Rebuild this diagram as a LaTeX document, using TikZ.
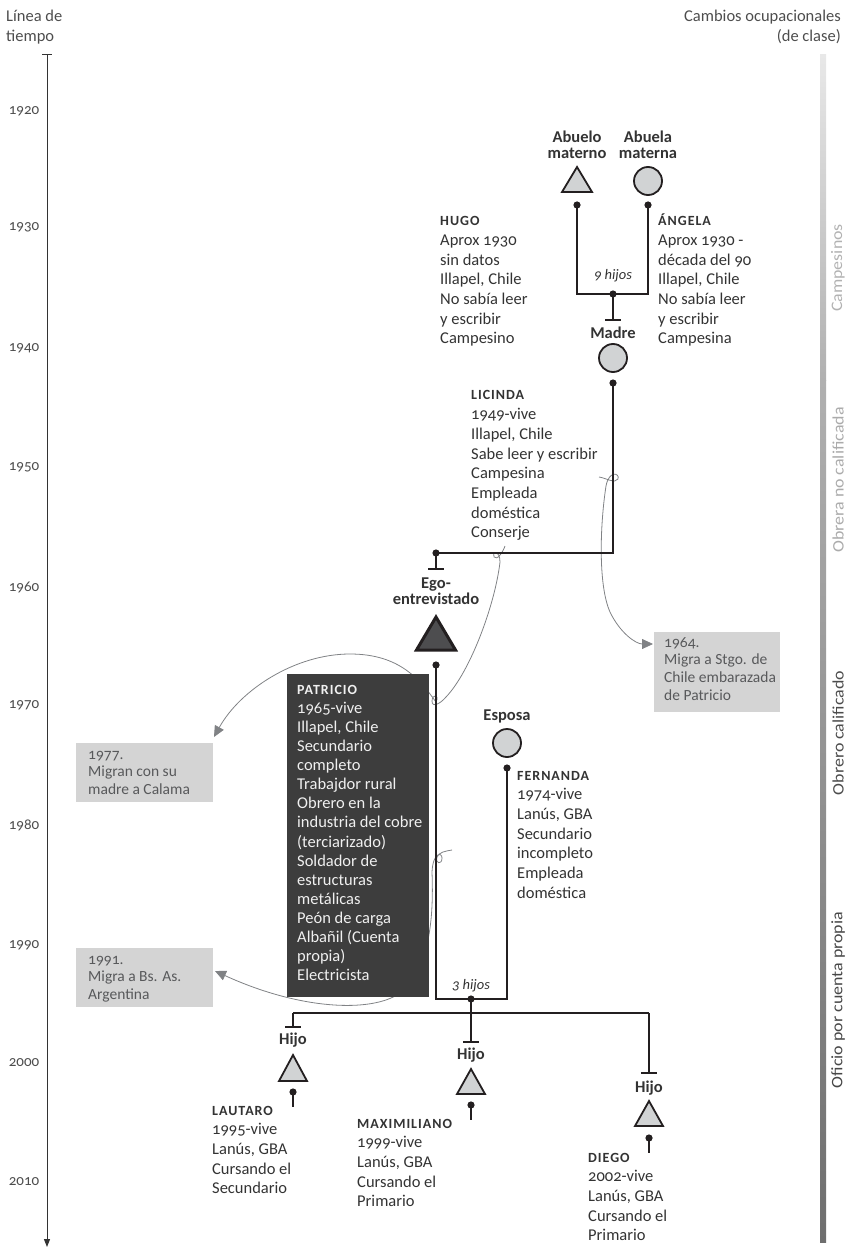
\documentclass[tikz,border=0pt]{standalone}
\usepackage{fontspec}
\setmainfont{Carlito}[Numbers=OldStyle]
\usetikzlibrary{arrows.meta}
\definecolor{ink}{HTML}{231F20}
\definecolor{txt}{HTML}{333333}
\definecolor{shapefill}{HTML}{D1D3D4}
\definecolor{egofill}{HTML}{4D4D4F}
\definecolor{boxdark}{HTML}{3D3D3D}
\definecolor{notefill}{HTML}{D4D4D4}
\definecolor{notetext}{HTML}{58595B}
\definecolor{arrowgray}{HTML}{808285}
\definecolor{yeargray}{HTML}{4D4D4D}
\definecolor{barA}{HTML}{E8E8E8}
\definecolor{barB}{HTML}{B0B0B0}
\definecolor{barC}{HTML}{6E6E6E}
\newcommand\bodyfont{\fontsize{16.5}{19.7}\selectfont}
\newcommand\pfont{\fontsize{16.5}{19.1}\selectfont}
\newcommand\notefont{\fontsize{15.5}{17.8}\selectfont}
\newcommand\lblfont{\fontsize{16.5}{16.5}\selectfont\bfseries}
\newcommand\nm[1]{{\fontsize{14}{15}\selectfont\bfseries\addfontfeature{LetterSpace=7}#1}}
\begin{document}
\begin{tikzpicture}[x=1pt,y=-1pt,
  conn/.style={draw=ink,line width=2pt},
  lbl/.style={font=\lblfont,text=txt,align=center,inner sep=0pt},
  info/.style={font=\bodyfont,text=txt,align=left,anchor=north west,inner sep=0pt},
  notebox/.style={fill=notefill,anchor=north west,inner sep=0pt},
  notetxt/.style={text=notetext,font=\notefont,align=left,anchor=north west,inner sep=0pt},
  mig/.style={draw=arrowgray,line width=0.8pt},
  migtip/.style={-{Triangle[length=11pt,width=10pt,fill=arrowgray]}},
  yr/.style={font=\fontsize{15}{15}\selectfont,text=yeargray,inner sep=0pt},
  side/.style={font=\fontsize{16}{16}\selectfont\addfontfeature{FakeStretch=1.12},rotate=90,inner sep=0pt},
  person/.style={draw=ink,line width=1.8pt,fill=shapefill},
  dotc/.style={fill=ink}
]
\useasboundingbox (0,0) rectangle (847,1249);

% headers
\node[font=\fontsize{16.5}{20.5}\selectfont,text=yeargray,align=left,anchor=north west,inner sep=0pt] (hdrL) at (6,6.6) {\strut L\'inea de\\tiempo};
\node[font=\fontsize{16.5}{20.5}\selectfont,text=yeargray,align=right,anchor=north east,inner sep=0pt] (hdrR) at (841,6.6) {\strut Cambios ocupacionales\\(de clase)};

% timeline
\coordinate (tTop) at (47,55);
\coordinate (tBot) at (47,1247);
\draw[draw=txt,line width=1pt,-{Triangle[length=8pt,width=6pt]}] (tTop) -- (tBot);
\draw[draw=txt,line width=1pt] (42,55) -- (52,55);
\foreach \yy/\lab in {111/1920,227/1930,348/1940,467/1950,587/1960,705/1970,825/1980,945/1990,1063/2000,1182/2010}
  \node[yr] (y\lab) at (24,\yy) {\lab};

% class bar
\shade[top color=barA,bottom color=barB] (820,55) rectangle (826,380);
\shade[top color=barB,bottom color=barC] (820,380) rectangle (826,1242);
\node[side,text=black!30] (c1) at (838,268) {Campesinos};
\node[side,text=black!33] (c2) at (838,480) {Obrera no calificada};
\node[side,text=black!70] (c3) at (838,733) {Obrero calificado};
\node[side,text=black!72] (c4) at (838,1000) {Oficio por cuenta propia};

% migration curves behind Patricio box
\coordinate (a64) at (653,644);
\coordinate (a77) at (214,737);
\coordinate (a91) at (215,971);
\draw[mig,migtip] (505,546) .. controls (503,552) and (497,561) .. (494,557)
  .. controls (491,552) and (500,549) .. (500,562)
  .. controls (495,605) and (470,672) .. (446,697)
  .. controls (440,704) and (432,708) .. (432,701)
  .. controls (432,694) and (440,694) .. (436,702)
  .. controls (420,680) and (400,654) .. (350,654)
  .. controls (295,654) and (240,690) .. (a77);
\draw[mig,migtip] (452,850) .. controls (446,851) and (439,852) .. (437,857)
  .. controls (435,864) and (442,865) .. (442,858)
  .. controls (442,852) and (433,852) .. (432,872)
  .. controls (434,925) and (428,968) .. (400,993)
  .. controls (372,1013) and (300,1010) .. (a91);
\draw[mig,migtip] (599,477) .. controls (606,478) and (615,484) .. (618,479)
  .. controls (620,473) and (609,470) .. (606,486)
  .. controls (600,525) and (598,585) .. (610,612)
  .. controls (620,633) and (636,644) .. (a64);

% notes
\node[notebox,minimum width=126pt,minimum height=80pt] (n64) at (654,632) {};
\node[notetxt] (t64) at (664,634.5) {\strut 1964.\\Migra a Stgo. de\\Chile embarazada\\de Patricio};
\node[notebox,minimum width=137pt,minimum height=59pt] (n77) at (76,743) {};
\node[notetxt] (t77) at (88,746.5) {\strut 1977.\\Migran con su\\madre a Calama};
\node[notebox,minimum width=137pt,minimum height=59pt] (n91) at (76,948) {};
\node[notetxt] (t91) at (88,951.5) {\strut 1991.\\Migra a Bs. As.\\Argentina};

% grandparents
\node[lbl] (lAbuelo) at (577,145) {Abuelo\\materno};
\node[lbl] (lAbuela) at (648,145) {Abuela\\materna};
\coordinate (abuelo) at (577,183);
\draw[person] (577,167) -- (562,192) -- (592,192) -- cycle;
\node[person,circle,minimum size=28pt,inner sep=0pt] (abuela) at (648,181) {};
\coordinate (dAbuelo) at (577,205);
\coordinate (dAbuela) at (648,205);
\coordinate (u1) at (613,294);
\coordinate (tk1) at (613,320);
\draw[conn] (dAbuelo) -- (dAbuelo |- u1) -- (dAbuela |- u1) -- (dAbuela);
\draw[conn] (u1) -- (tk1);
\draw[conn] ([xshift=-8pt]tk1) -- ([xshift=8pt]tk1);
\fill[dotc] (dAbuelo) circle (3.6pt) (dAbuela) circle (3.6pt) (u1) circle (3.6pt);
\node[font=\fontsize{14.5}{14.5}\selectfont\itshape,text=txt,inner sep=0pt] (h9) at (613,276) {9 hijos};

% info blocks
\node[info] (hugo) at (440,211.7) {\strut\nm{HUGO}\\Aprox 1930\\sin datos\\Illapel, Chile\\No sab\'ia leer\\y escribir\\Campesino};
\node[info] (angela) at (658,211.7) {\strut\nm{\'ANGELA}\\Aprox 1930 -\\d\'ecada del 90\\Illapel, Chile\\No sab\'ia leer\\y escribir\\Campesina};

% madre
\node[lbl] (lMadre) at (613,333) {Madre};
\node[person,circle,minimum size=28pt,inner sep=0pt] (madre) at (613,358) {};
\coordinate (dMadre) at (613,383);
\coordinate (dEgo) at (436,553);
\coordinate (tk2) at (436,569);
\draw[conn] (dMadre) -- (dMadre |- dEgo) -- (dEgo) -- (tk2);
\draw[conn] ([xshift=-8pt]tk2) -- ([xshift=8pt]tk2);
\fill[dotc] (dMadre) circle (3.6pt) (dEgo) circle (3.6pt);
\node[info] (licinda) at (471,386) {\strut\nm{LICINDA}\\1949-vive\\Illapel, Chile\\Sabe leer y escribir\\Campesina\\Empleada\\dom\'estica\\Conserje};

% ego
\node[lbl] (lEgo) at (436,591) {Ego-\\entrevistado};
\coordinate (ego) at (436,638);
\draw[draw=ink,line width=3pt,fill=egofill] (436,617) -- (416.5,650) -- (455.5,650) -- cycle;
\coordinate (dPat) at (436,665);
\coordinate (u2) at (471,999);
\coordinate (dEsp) at (507,768);
\draw[conn] (dPat) -- (dPat |- u2) -- (dEsp |- u2) -- (dEsp);
\fill[dotc] (dPat) circle (3.6pt) (dEsp) circle (3.6pt);

% patricio box
\node[fill=boxdark,anchor=north west,minimum width=142pt,minimum height=323pt,inner sep=0pt] (pbox) at (287,674) {};
\node[info,font=\pfont,text=white!94!black] (patricio) at (297,680.7) {\strut\nm{PATRICIO}\\1965-vive\\Illapel, Chile\\Secundario\\completo\\Trabajdor rural\\Obrero en la\\industria del cobre\\(terciarizado)\\Soldador de\\estructuras\\met\'alicas\\Pe\'on de carga\\Alba\~nil (Cuenta\\propia)\\Electricista};

% esposa
\node[lbl] (lEsposa) at (507,716) {Esposa};
\node[person,circle,minimum size=28pt,inner sep=0pt] (esposa) at (507,743) {};
\node[info] (fernanda) at (517,766) {\strut\nm{FERNANDA}\\1974-vive\\Lan\'us, GBA\\Secundario\\incompleto\\Empleada\\dom\'estica};
\node[font=\fontsize{14.5}{14.5}\selectfont\itshape,text=txt,inner sep=0pt] (h3) at (471,986) {3 hijos};

% children connectors
\coordinate (kL) at (293,1013);
\coordinate (kR) at (649,1013);
\coordinate (tkL) at (293,1027);
\coordinate (tkM) at (471,1042);
\coordinate (tkR) at (649,1073);
\draw[conn] (u2) -- (tkM);
\draw[conn] (kL) -- (kR);
\draw[conn] (kL) -- (tkL);
\draw[conn] (kR) -- (tkR);
\foreach \t in {tkL,tkM,tkR} \draw[conn] ([xshift=-8pt]\t) -- ([xshift=8pt]\t);
\fill[dotc] (u2) circle (3.6pt);

% children
\node[lbl] (lH1) at (293,1040) {Hijo};
\node[lbl] (lH2) at (471,1055) {Hijo};
\node[lbl] (lH3) at (649,1088) {Hijo};
\coordinate (hijo1) at (293,1070);
\coordinate (hijo2) at (471,1084);
\coordinate (hijo3) at (649,1116);
\draw[person] (293,1055) -- (279,1081) -- (307,1081) -- cycle;
\draw[person] (471,1069) -- (457,1094) -- (485,1094) -- cycle;
\draw[person] (649,1101) -- (635,1126) -- (663,1126) -- cycle;
\coordinate (s1a) at (293,1092); \coordinate (s1b) at (293,1107);
\coordinate (s2a) at (471,1105); \coordinate (s2b) at (471,1120);
\coordinate (s3a) at (649,1138); \coordinate (s3b) at (649,1153);
\draw[conn] (s1a) -- (s1b);
\draw[conn] (s2a) -- (s2b);
\draw[conn] (s3a) -- (s3b);
\fill[dotc] (s1a) circle (3.6pt) (s2a) circle (3.6pt) (s3a) circle (3.6pt);
\node[info] (lautaro) at (212,1101) {\strut\nm{LAUTARO}\\1995-vive\\Lan\'us, GBA\\Cursando el\\Secundario};
\node[info] (maxi) at (357,1114) {\strut\nm{MAXIMILIANO}\\1999-vive\\Lan\'us, GBA\\Cursando el\\Primario};
\node[info] (diego) at (588,1148) {\strut\nm{DIEGO}\\2002-vive\\Lan\'us, GBA\\Cursando el\\Primario};
\end{tikzpicture}
\end{document}
